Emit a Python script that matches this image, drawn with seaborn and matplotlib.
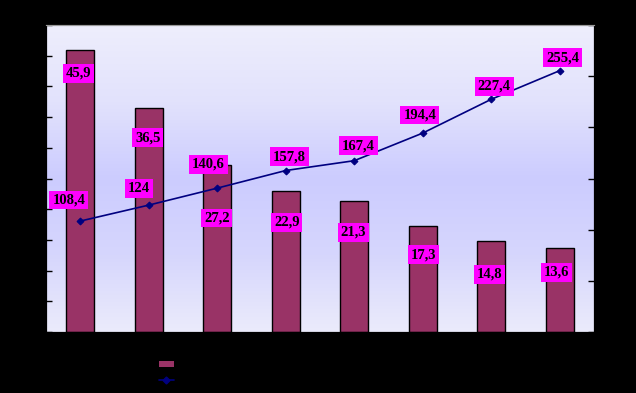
import numpy as np
import pandas as pd
import matplotlib
matplotlib.use('Agg')
import matplotlib.pyplot as plt
from matplotlib.patches import Patch
from matplotlib.lines import Line2D
from matplotlib.colors import LinearSegmentedColormap
import seaborn as sns

# data
categories = ['1', '2', '3', '4', '5', '6', '7', '8']
bar_values = [45.9, 36.5, 27.2, 22.9, 21.3, 17.3, 14.8, 13.6]
line_values = [108.4, 124, 140.6, 157.8, 167.4, 194.4, 227.4, 255.4]
bar_name = 'Series1'
line_name = 'Series2'

# label nudges in pixels (layout only)
bar_lab_dx = [-1.7, -1, -0.5, 1, -1, 1, -2, -3]
bar_lab_dy = [-23, -30, -53, -31, -31, -29, -33, -24]
line_lab_dx = [-11.5, -10, -9, 4, 4, -3, 3, 3]
line_lab_dy = [21, 17, 24, 14, 15, 18, 13, 13]

bar_color = '#993366'
line_color = '#000080'
box_color = '#FF00FF'

df = pd.DataFrame({'cat': categories, 'bar': bar_values, 'line': line_values})
df['pos'] = np.arange(len(df))

sns.set_style('white')
plt.rcParams['font.family'] = ['Liberation Serif', 'DejaVu Serif']

fig = plt.figure(figsize=(6.36, 3.93), dpi=100, facecolor='black')
W, H = 636, 393
rect = [46 / W, 61 / H, 548 / W, 307 / H]

# gradient plot background
bg = fig.add_axes(rect, zorder=0)
cmap = LinearSegmentedColormap.from_list('bg', ['#EEEEFC', '#E2E2FC', '#CCCCFF', '#D6D6FD', '#EBEBFB'])
grad = np.linspace(0, 1, 256).reshape(-1, 1)
bg.imshow(grad, aspect='auto', cmap=cmap, extent=(0, 1, 0, 1), origin='upper')
bg.set_axis_off()

ax = fig.add_axes(rect, zorder=1)
ax.set_facecolor('none')
sns.barplot(data=df, x='cat', y='bar', color=bar_color, saturation=1, width=0.41,
            edgecolor='black', linewidth=1, ax=ax, zorder=2)
ax.set_xlim(-0.5, len(df) - 0.5)
ax.set_ylim(0, 50)
ax.set_yticks(np.arange(0, 51, 5))
ax.set_xlabel('')
ax.set_ylabel('')
ax.set_xticks(np.arange(len(df)) + 0.5, minor=True)
ax.tick_params(axis='x', which='major', length=0, labelcolor='black')
ax.tick_params(axis='x', which='minor', direction='in', length=4, color='black', width=1)
ax.tick_params(axis='y', direction='in', length=4, color='black', width=1, labelcolor='black')
for s in ['left', 'bottom', 'right']:
    ax.spines[s].set_color('black')
ax.spines['top'].set_color('#999999')

ax2 = ax.twinx()
sns.lineplot(data=df, x='pos', y='line', color=line_color, linewidth=1.2, marker='D',
             markersize=3.5, markeredgecolor=line_color, ax=ax2, zorder=3)
ax2.set_ylim(0, 300)
ax2.set_yticks(np.arange(0, 301, 50))
ax2.set_xlim(-0.5, len(df) - 0.5)
ax2.set_ylabel('')
ax2.set_xlabel('')
ax2.tick_params(axis='y', direction='in', length=4, color='black', width=1, labelcolor='black')
for s in ['left', 'bottom', 'right']:
    ax2.spines[s].set_color('black')
ax2.spines['top'].set_color('#999999')

box = dict(boxstyle='square,pad=0.2', facecolor=box_color, edgecolor='none')
for i, v in enumerate(bar_values):
    ax.annotate(str(v).replace('.', ','), (i, v), xytext=(bar_lab_dx[i], bar_lab_dy[i]),
                textcoords='offset pixels', ha='center', va='center', fontsize=10.5,
                fontweight='bold', color='black', bbox=box, zorder=5)
for i, v in enumerate(line_values):
    txt = ('%g' % v).replace('.', ',')
    ax2.annotate(txt, (i, v), xytext=(line_lab_dx[i], line_lab_dy[i]),
                 textcoords='offset pixels', ha='center', va='center', fontsize=10.5,
                 fontweight='bold', color='black', bbox=box, zorder=5)

handles = [Patch(facecolor=bar_color, edgecolor='none'),
           Line2D([], [], color=line_color, linewidth=1.2, marker='D', markersize=3.5)]
fig.legend(handles, [bar_name, line_name], loc='center left',
           bbox_to_anchor=(148 / W, 1 - 373 / H), frameon=False, fontsize=9,
           labelcolor='black', handlelength=1.15, handleheight=0.35,
           labelspacing=0.25, handletextpad=0.5)

fig.savefig('out.png', dpi=100, facecolor='black')
